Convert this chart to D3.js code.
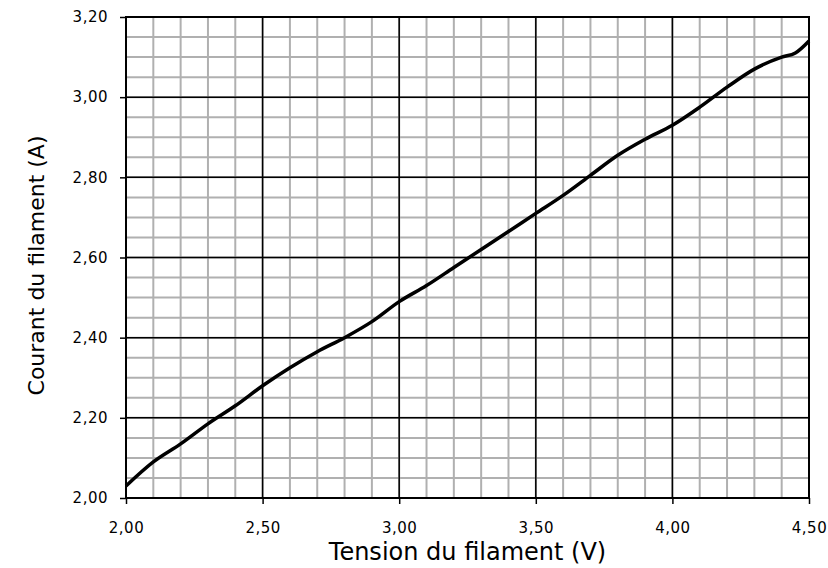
<!DOCTYPE html>
<html>
<head>
<meta charset="utf-8">
<script src="https://cdn.jsdelivr.net/npm/d3@7"></script>
<style>
  body { margin: 0; background: #fff; }
  svg { display: block; }
</style>
</head>
<body>
<svg id="chart"></svg>
<script>
// tension (V) et courant (A)
const tension = [2.00, 2.10, 2.20, 2.30, 2.40, 2.50, 2.60, 2.70, 2.80, 2.90, 3.00, 3.10, 3.20,
                 3.30, 3.40, 3.50, 3.60, 3.70, 3.80, 3.90, 4.00, 4.10, 4.20, 4.30, 4.40, 4.45, 4.50];
const courant = [2.03, 2.09, 2.135, 2.185, 2.23, 2.28, 2.325, 2.365, 2.40, 2.44, 2.49, 2.53, 2.575,
                 2.62, 2.665, 2.71, 2.755, 2.805, 2.855, 2.895, 2.93, 2.975, 3.025, 3.07, 3.10, 3.11, 3.14];
const xTicks = [2.0, 2.5, 3.0, 3.5, 4.0, 4.5];
const yTicks = [2.0, 2.2, 2.4, 2.6, 2.8, 3.0, 3.2];
const xMinor = d3.range(2.0, 4.5001, 0.1);
const yMinor = d3.range(2.0, 3.2001, 0.05);

const W = 828, H = 568;
let margin = {top: 17, right: 19, bottom: 70, left: 126},
    width = W - margin.left - margin.right,
    height = H - margin.top - margin.bottom;

const fmt = d => d3.format(".2f")(d).replace(".", ",");

let svg = d3.select("#chart")
  .attr("width", W)
  .attr("height", H);

let g = svg.append("g")
  .attr("transform", "translate(" + margin.left + "," + margin.top + ")");

let x = d3.scaleLinear().domain([2.0, 4.5]).range([0, width]);
let y = d3.scaleLinear().domain([2.0, 3.2]).range([height, 0]);

// grille secondaire
g.append("g").selectAll("line")
  .data(xMinor)
  .enter().append("line")
  .attr("x1", d => x(d)).attr("x2", d => x(d))
  .attr("y1", 0).attr("y2", height)
  .style("stroke", "#b0b0b0").style("stroke-width", 2);

g.append("g").selectAll("line")
  .data(yMinor)
  .enter().append("line")
  .attr("y1", d => y(d)).attr("y2", d => y(d))
  .attr("x1", 0).attr("x2", width)
  .style("stroke", "#b0b0b0").style("stroke-width", 2);

// grille principale
g.append("g").selectAll("line")
  .data(xTicks)
  .enter().append("line")
  .attr("x1", d => x(d)).attr("x2", d => x(d))
  .attr("y1", 0).attr("y2", height)
  .style("stroke", "#000").style("stroke-width", 1.5);

g.append("g").selectAll("line")
  .data(yTicks)
  .enter().append("line")
  .attr("y1", d => y(d)).attr("y2", d => y(d))
  .attr("x1", 0).attr("x2", width)
  .style("stroke", "#000").style("stroke-width", 1.5);

// axes
let xAxis = d3.axisBottom(x).tickValues(xTicks).tickSize(6).tickPadding(18).tickFormat(fmt);
let yAxis = d3.axisLeft(y).tickValues(yTicks).tickSize(6).tickPadding(12).tickFormat(fmt);

g.append("g")
  .attr("transform", "translate(0," + height + ")")
  .call(xAxis)
  .call(a => a.select(".domain").remove());

g.append("g")
  .call(yAxis)
  .call(a => a.select(".domain").remove());

g.selectAll(".tick line").style("stroke", "#000").style("stroke-width", 1.5);
g.selectAll(".tick text")
  .style("font-family", "DejaVu Sans")
  .style("font-size", "15px")
  .style("letter-spacing", "0.5px")
  .style("fill", "#000");

// cadre
g.append("rect")
  .attr("width", width).attr("height", height)
  .style("fill", "none").style("stroke", "#000").style("stroke-width", 2);

// courbe
let line = d3.line()
  .x((d, i) => x(tension[i]))
  .y(d => y(d))
  .curve(d3.curveMonotoneX);

g.append("path")
  .datum(courant)
  .attr("d", line)
  .style("fill", "none")
  .style("stroke", "#000")
  .style("stroke-width", 3.5);

// titres
svg.append("text")
  .attr("x", margin.left + width / 2)
  .attr("y", 560)
  .style("text-anchor", "middle")
  .style("font-family", "DejaVu Sans")
  .style("font-size", "24px")
  .text("Tension du filament (V)");

svg.append("text")
  .attr("transform", "translate(44," + (margin.top + height / 2 + 8) + ") rotate(-90)")
  .style("text-anchor", "middle")
  .style("font-family", "DejaVu Sans")
  .style("font-size", "22px")
  .text("Courant du filament (A)");
</script>
</body>
</html>
